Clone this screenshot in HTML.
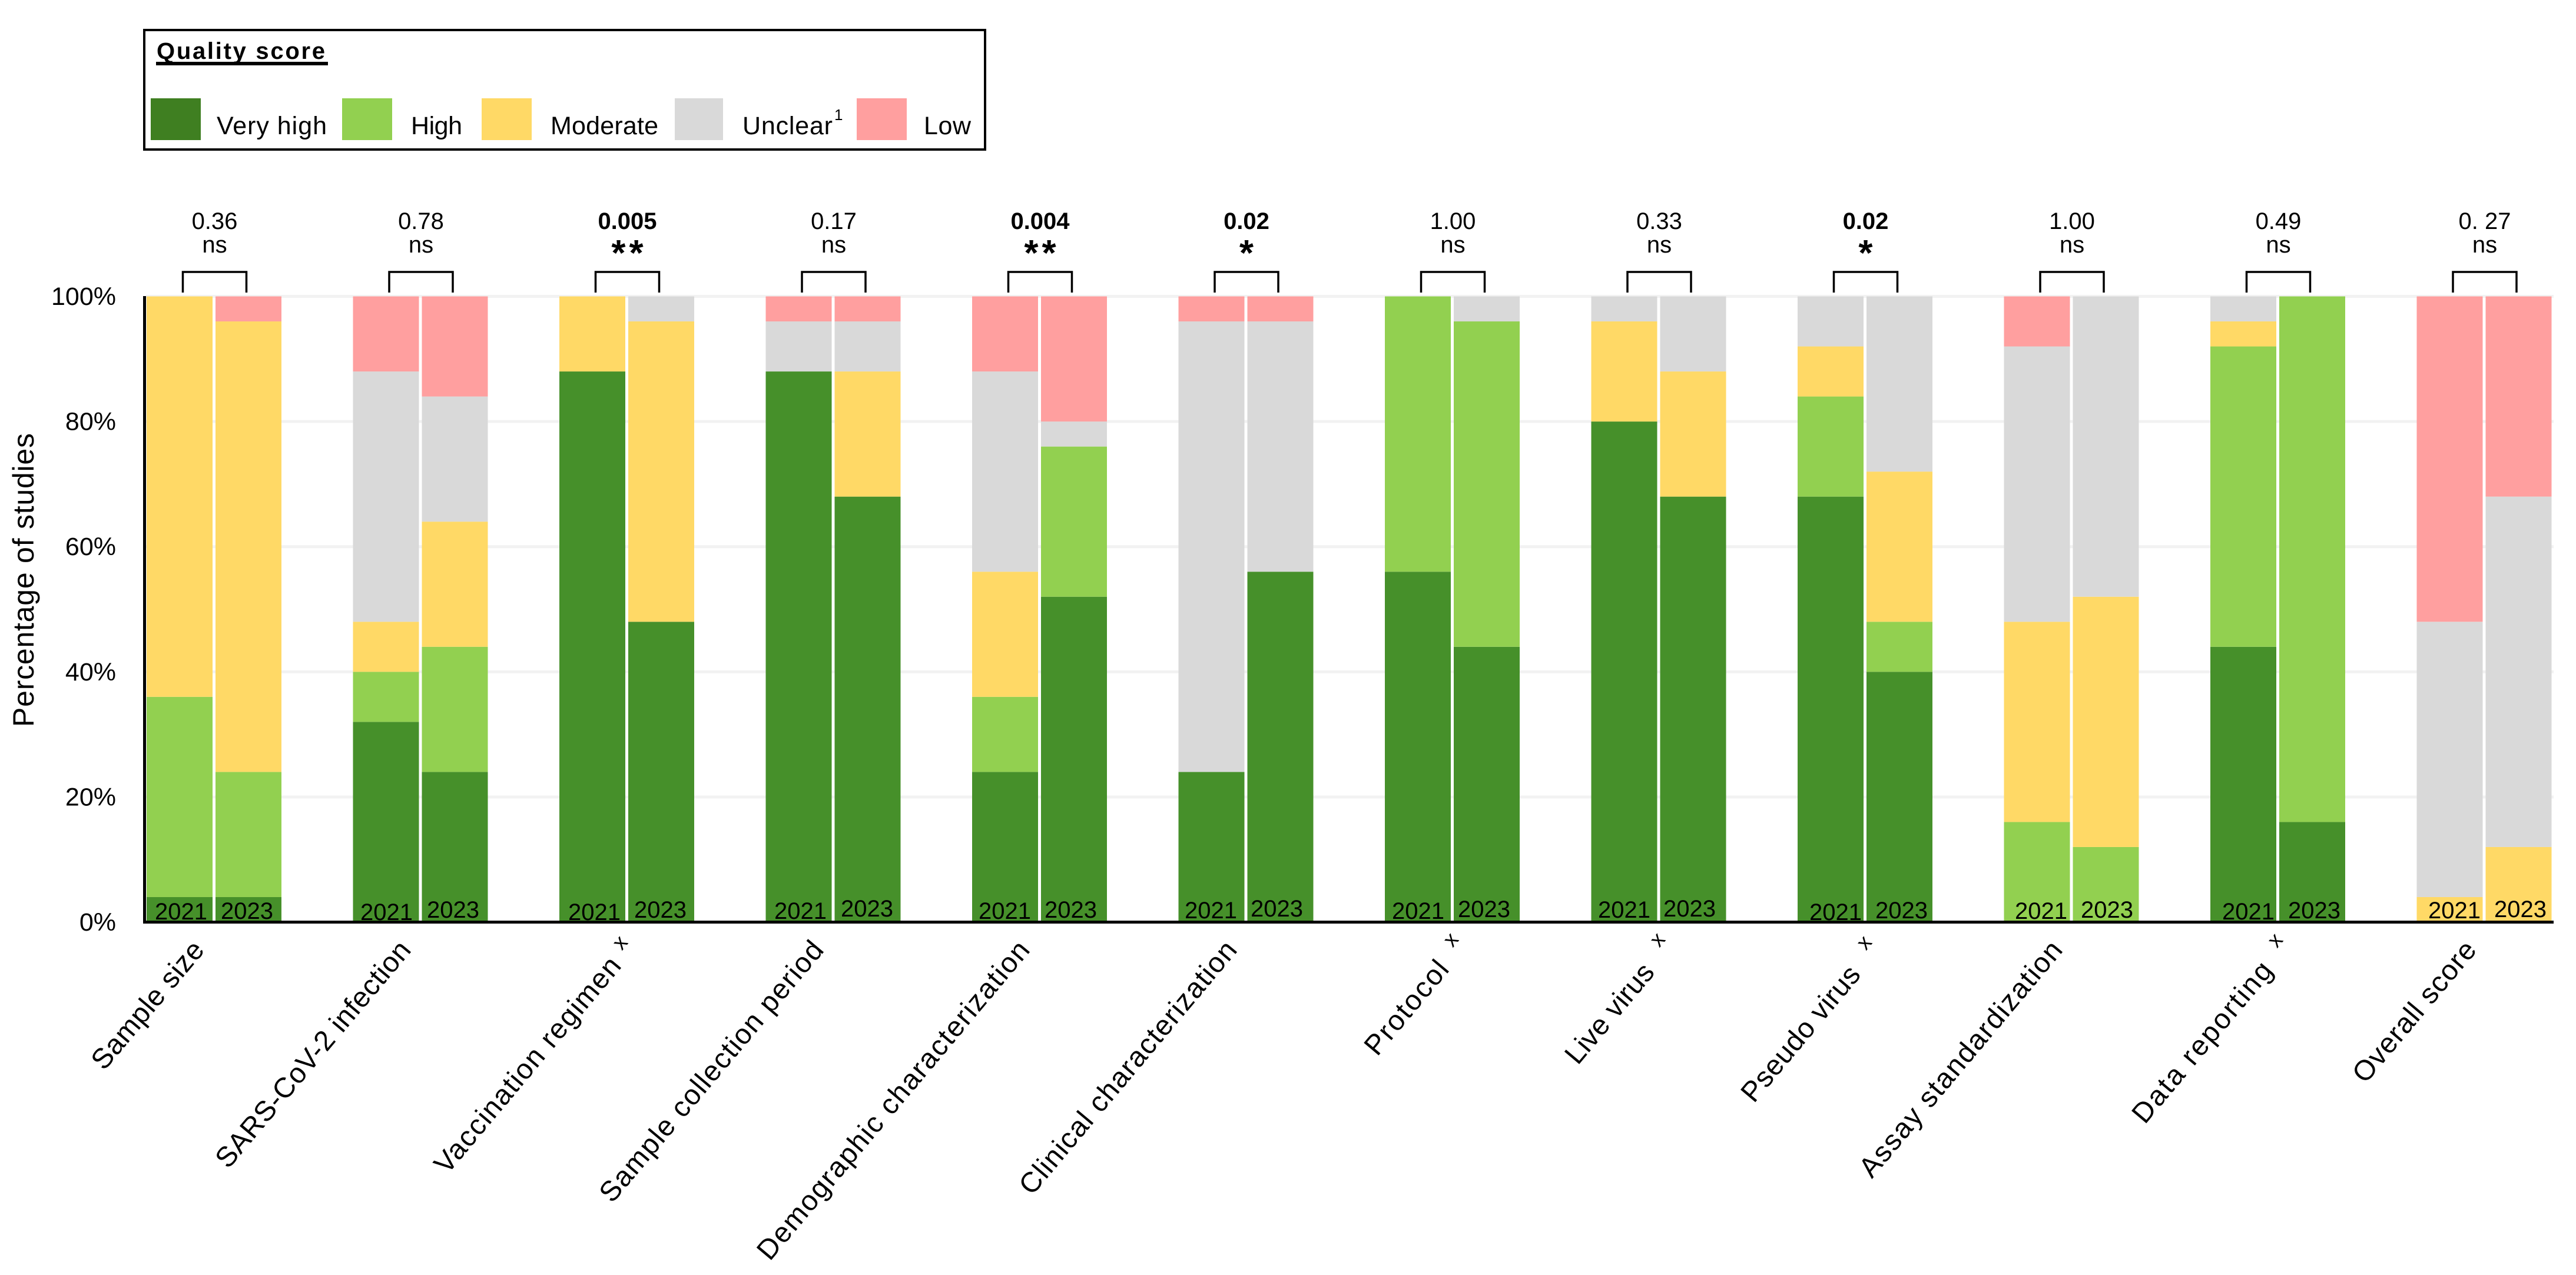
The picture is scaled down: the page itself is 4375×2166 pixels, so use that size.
<!DOCTYPE html>
<html lang="en">
<head>
<meta charset="utf-8">
<title>Quality score by study criterion</title>
<style>
html,body{margin:0;padding:0;background:#fff;}
svg{display:block;font-family:"Liberation Sans",sans-serif;fill:#000;}
</style>
</head>
<body>
<svg id="chart" xmlns="http://www.w3.org/2000/svg" width="4375" height="2166" viewBox="0 0 4375 2166">
  <rect width="4375" height="2166" fill="#fff"/>

  <g>
    <rect x="245" y="51" width="1428" height="203" fill="#fff" stroke="#000" stroke-width="4"/>
    <text x="266" y="100" font-size="40" font-weight="bold" textLength="286">Quality score</text>
    <rect x="265" y="105" width="292" height="6"/>
    <rect x="256" y="167" width="85" height="71" fill="#3f7f21"/>
    <text x="368" y="228" font-size="43" textLength="187">Very high</text>
    <rect x="581" y="167" width="85" height="71" fill="#92d050"/>
    <text x="698" y="228" font-size="43" textLength="87">High</text>
    <rect x="818" y="167" width="85" height="71" fill="#ffd966"/>
    <text x="935" y="228" font-size="43" textLength="183">Moderate</text>
    <rect x="1146" y="167" width="82" height="71" fill="#d9d9d9"/>
    <text x="1261" y="228" font-size="43" textLength="153">Unclear</text>
    <text x="1417" y="204" font-size="26">1</text>
    <rect x="1455" y="167" width="85" height="71" fill="#ff9f9f"/>
    <text x="1569" y="228" font-size="43" textLength="80">Low</text>
  </g>

  <g id="gridlines"></g>
  <g id="bars"></g>
  <g id="annotations"></g>

  <rect x="243" y="503" width="5" height="1066"/>
  <rect x="243" y="1564" width="4094" height="5"/>

  <g id="y-ticks"></g>
  <text transform="translate(57,985.5) rotate(-90)" text-anchor="middle" font-size="50" textLength="499">Percentage of studies</text>

  <g font-size="40">
    <text x="263" y="1562">2021</text><text x="375" y="1561">2023</text>
    <text x="612" y="1563">2021</text><text x="725" y="1559">2023</text>
    <text x="965" y="1563">2021</text><text x="1077" y="1559">2023</text>
    <text x="1315" y="1561">2021</text><text x="1428" y="1557">2023</text>
    <text x="1662" y="1561">2021</text><text x="1774" y="1559">2023</text>
    <text x="2012" y="1560">2021</text><text x="2124" y="1557">2023</text>
    <text x="2364" y="1561">2021</text><text x="2476" y="1558">2023</text>
    <text x="2714" y="1559">2021</text><text x="2825" y="1557">2023</text>
    <text x="3073" y="1563">2021</text><text x="3185" y="1560">2023</text>
    <text x="3422" y="1561">2021</text><text x="3534" y="1559">2023</text>
    <text x="3774" y="1562">2021</text><text x="3886" y="1560">2023</text>
    <text x="4124" y="1560">2021</text><text x="4236" y="1558">2023</text>
  </g>

  <g font-size="48" text-anchor="end">
    <text transform="translate(349,1615) rotate(-50)" textLength="268">Sample size</text>
    <text transform="translate(700,1615) rotate(-50)" textLength="486">SARS-CoV-2 infection</text>
    <text transform="translate(1057,1642) rotate(-50)" textLength="463">Vaccination regimen</text>
    <text transform="translate(1401,1615) rotate(-50)" textLength="562">Sample collection period</text>
    <text transform="translate(1751,1615) rotate(-50)" textLength="690">Demographic characterization</text>
    <text transform="translate(2103,1615) rotate(-50)" textLength="545">Clinical characterization</text>
    <text transform="translate(2463,1648) rotate(-50)" textLength="193">Protocol</text>
    <text transform="translate(2812,1653) rotate(-50)" textLength="206">Live virus</text>
    <text transform="translate(3162,1657) rotate(-50)" textLength="285">Pseudo virus</text>
    <text transform="translate(3505,1615) rotate(-50)" textLength="507">Assay standardization</text>
    <text transform="translate(3862,1650) rotate(-50)" textLength="341">Data reporting</text>
    <text transform="translate(4208,1615) rotate(-50)" textLength="297">Overall score</text>
  </g>
  <g font-size="36" text-anchor="middle">
    <text transform="translate(1055,1603) rotate(-50)" y="9">x</text>
    <text transform="translate(2466,1598) rotate(-50)" y="9">x</text>
    <text transform="translate(2817,1598) rotate(-50)" y="9">x</text>
    <text transform="translate(3168,1603) rotate(-50)" y="9">x</text>
    <text transform="translate(3866,1599) rotate(-50)" y="9">x</text>
  </g>
</svg>

<script>
var categories = ["Sample size","SARS-CoV-2 infection","Vaccination regimen","Sample collection period","Demographic characterization","Clinical characterization","Protocol","Live virus","Pseudo virus","Assay standardization","Data reporting","Overall score"];
var years = ["2021","2023"];
var veryHigh2021 = [4,32,88,88,24,24,56,80,68,0,44,0];
var veryHigh2023 = [4,24,48,68,52,56,44,68,40,0,16,0];
var high2021 = [32,8,0,0,12,0,44,0,16,16,48,0];
var high2023 = [20,20,0,0,24,0,52,0,8,12,84,0];
var moderate2021 = [64,8,12,0,20,0,0,16,8,32,4,4];
var moderate2023 = [72,20,48,20,0,0,0,20,24,40,0,12];
var unclear2021 = [0,40,0,8,32,72,0,4,8,44,4,44];
var unclear2023 = [0,20,4,8,4,40,4,12,28,48,0,56];
var low2021 = [0,12,0,4,12,4,0,0,0,8,0,52];
var low2023 = [4,16,0,4,20,4,0,0,0,0,0,32];
var pValues = ["0.36","0.78","0.005","0.17","0.004","0.02","1.00","0.33","0.02","1.00","0.49","0. 27"];
var significance = ["ns","ns","**","ns","**","*","ns","ns","*","ns","ns","ns"];
var yTicks = [0,20,40,60,80,100];
var seriesNames = ["very-high","high","moderate","unclear","low"];
var seriesColors = ["#46902a","#92d050","#ffd966","#d9d9d9","#ff9f9f"];

var SVGNS = "http://www.w3.org/2000/svg";
function yScale(v){ return 1566.5 - v / 100 * 1063; }
function groupLeft(g){ return 249 + 350.5 * g; }
function barX(g, yearIndex){ return groupLeft(g) + yearIndex * 117; }
function groupCenter(g){ return groupLeft(g) + 115.5; }
var BAR_WIDTH = 112;

var gridG = document.getElementById("gridlines");
var barsG = document.getElementById("bars");
var annG = document.getElementById("annotations");
var tickG = document.getElementById("y-ticks");

yTicks.forEach(function(t){
  if (t > 0) {
    var line = document.createElementNS(SVGNS, "rect");
    
    
    line.setAttribute("x", 248);
    line.setAttribute("y", yScale(t) - 2.5);
    line.setAttribute("width", 4089);
    line.setAttribute("height", 5);
    line.setAttribute("fill", "#f2f2f2");
    gridG.appendChild(line);
  }
  var label = document.createElementNS(SVGNS, "text");
  
  
  label.setAttribute("x", 197);
  label.setAttribute("y", yScale(t) + 14.5);
  label.setAttribute("font-size", 43);
  label.setAttribute("text-anchor", "end");
  label.textContent = t + "%";
  tickG.appendChild(label);
});

var seriesByYear = [
  [veryHigh2021, high2021, moderate2021, unclear2021, low2021],
  [veryHigh2023, high2023, moderate2023, unclear2023, low2023]
];

categories.forEach(function(cat, g){
  years.forEach(function(year, yi){
    var cumulative = 0;
    seriesByYear[yi].forEach(function(values, s){
      var v = values[g];
      if (v > 0) {
        var top = yScale(cumulative + v);
        var bottom = yScale(cumulative);
        var r = document.createElementNS(SVGNS, "rect");
        
        
        r.setAttribute("data-series", seriesNames[s]);
        r.setAttribute("data-year", year);
        r.setAttribute("x", barX(g, yi));
        r.setAttribute("y", top);
        r.setAttribute("width", BAR_WIDTH);
        r.setAttribute("height", bottom - top);
        r.setAttribute("fill", seriesColors[s]);
        barsG.appendChild(r);
      }
      cumulative += v;
    });
  });

  var c = groupCenter(g);
  var bracket = document.createElementNS(SVGNS, "path");
  
  
  bracket.setAttribute("d", "M" + (c - 54) + " 497V462H" + (c + 54) + "V497");
  bracket.setAttribute("fill", "none");
  bracket.setAttribute("stroke", "#000");
  bracket.setAttribute("stroke-width", 3.5);
  annG.appendChild(bracket);

  var sig = significance[g];
  var isSig = sig !== "ns";

  var p = document.createElementNS(SVGNS, "text");
  
  
  p.setAttribute("x", c);
  p.setAttribute("y", 389);
  p.setAttribute("font-size", 40);
  p.setAttribute("text-anchor", "middle");
  if (isSig) p.setAttribute("font-weight", "bold");
  p.textContent = pValues[g];
  annG.appendChild(p);

  var m = document.createElementNS(SVGNS, "text");
  
  
  m.setAttribute("text-anchor", "middle");
  if (isSig) {
    m.setAttribute("x", c + 3);
    m.setAttribute("y", 451);
    m.setAttribute("font-size", 62);
    m.setAttribute("font-weight", "bold");
    m.setAttribute("letter-spacing", 6);
  } else {
    m.setAttribute("x", c);
    m.setAttribute("y", 429);
    m.setAttribute("font-size", 40);
  }
  m.textContent = sig;
  annG.appendChild(m);
});
</script>
</body>
</html>
